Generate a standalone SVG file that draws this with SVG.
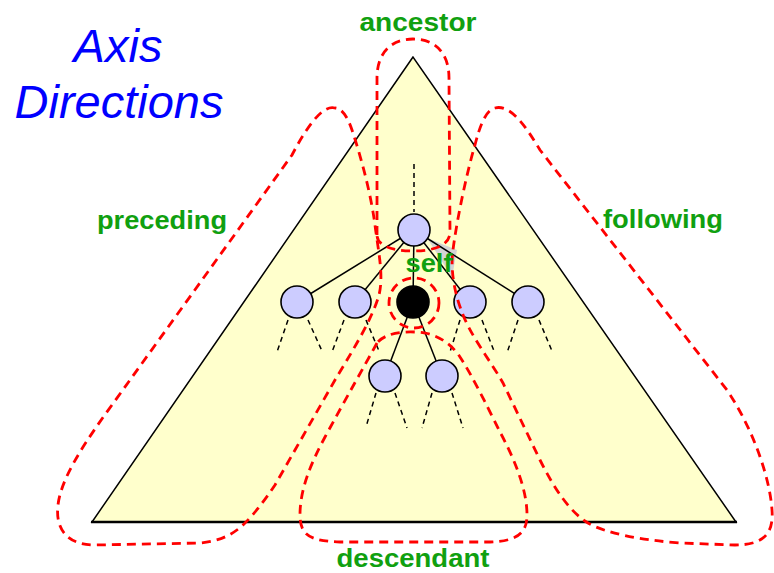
<svg xmlns="http://www.w3.org/2000/svg" width="774" height="573" viewBox="0 0 774 573">
<style>
.title{font-family:"Liberation Sans",Arial,sans-serif;font-style:italic;font-size:47px;fill:#0000FF;text-anchor:middle}
.lbl{font-family:"Liberation Sans",Arial,sans-serif;font-weight:bold;font-size:26px;fill:#10A010;text-anchor:middle}
.node{fill:#CCCCFF;stroke:#000;stroke-width:1.6}
.self{fill:#000;stroke:#000;stroke-width:1.6}
.edge{stroke:#000;stroke-width:1.5;fill:none}
.kid{stroke:#000;stroke-width:1.5;fill:none;stroke-dasharray:5 4}
.axis{stroke:#FF0000;stroke-width:2.8;fill:none;stroke-dasharray:9 6}
</style>
<rect width="774" height="573" fill="#FFFFFF"/>
<g id="triangle">
<polygon points="413,57 92,522 736,522" fill="#FFFFCC" stroke="#000" stroke-width="1.5"/>
<line x1="91" y1="522" x2="737" y2="522" stroke="#000" stroke-width="2.5"/>
</g>
<polygon id="self-pointer" points="427,238 457,250 452,277" fill="#D4D4D4"/>
<g id="connectors">
<line class="kid" x1="414" y1="164" x2="414" y2="212"/>
<line class="edge" x1="414" y1="230" x2="297" y2="302"/>
<line class="edge" x1="414" y1="230" x2="355" y2="302"/>
<line class="edge" x1="414" y1="230" x2="413" y2="302"/>
<line class="edge" x1="414" y1="230" x2="470" y2="302"/>
<line class="edge" x1="414" y1="230" x2="528" y2="302"/>
<line class="edge" x1="413" y1="302" x2="385" y2="376"/>
<line class="edge" x1="413" y1="302" x2="442" y2="376"/>
<path class="kid" d="M288,320 L277,352 M308,320 L322,351 M344,320 L332,352 M366,320 L379,351 M460,320 L450,352 M482,320 L494,351 M518,320 L507,353 M539,320 L552,351 M376,393 L366,427 M395,393 L407,428 M432,393 L422,428 M452,393 L463,428"/>
</g>
<g id="node-root"><circle class="node" cx="414" cy="230" r="16"/></g>
<g id="node-p1"><circle class="node" cx="297" cy="302" r="16"/></g>
<g id="node-p2"><circle class="node" cx="355" cy="302" r="16"/></g>
<g id="node-self"><circle class="self" cx="413" cy="302" r="16"/></g>
<g id="node-f1"><circle class="node" cx="470" cy="302" r="16"/></g>
<g id="node-f2"><circle class="node" cx="528" cy="302" r="16"/></g>
<g id="node-d1"><circle class="node" cx="385" cy="376" r="16"/></g>
<g id="node-d2"><circle class="node" cx="442" cy="376" r="16"/></g>
<g id="axes">
<path id="ancestor-loop" class="axis" d="M377,235 L377,78 C377,52 392,39 413,39 C434,39 449,52 449,78 L450,232 C450,245 435,251 413,251 C391,251 377,245 377,235 Z"/>
<path id="preceding-loop" class="axis" d="M335,108 C322,104 305,130 292,155 L130,380 C100,422 62,470 58,505 C55,530 68,545 95,545 L200,543 C222,541 235,533 245,523 C255,513 265,500 275,485 L335,380 C350,355 372,320 379,295 C384,275 378,250 375,225 C371,195 362,160 352,130 C347,115 341,108 335,108 Z"/>
<path id="following-loop" class="axis" d="M495,108 C510,104 525,125 540,150 L727,390 C755,432 770,480 772,510 C774,535 762,545 735,545 L680,543 C640,540 605,533 588,523 C570,512 555,490 540,460 L503,383 C490,360 470,335 462,312 C455,295 450,270 453,250 C456,225 466,175 475,145 C480,125 486,110 495,108 Z"/>
<circle id="self-loop" class="axis" cx="414" cy="303" r="25"/>
<path id="descendant-loop" class="axis" d="M377,343 C365,365 345,400 325,437 C310,465 300,490 300,515 C300,535 310,541 340,542 L490,542 C515,541 527,535 527,515 C527,490 515,460 500,432 C488,408 472,375 460,357 C452,345 440,336 425,333 C405,330 385,333 377,343 Z"/>
</g>
<g id="labels">
<text class="title" x="118" y="62">Axis</text>
<text class="title" x="119" y="118">Directions</text>
<text class="lbl" x="418" y="31" textLength="117" lengthAdjust="spacingAndGlyphs">ancestor</text>
<text class="lbl" x="162" y="229" textLength="130" lengthAdjust="spacingAndGlyphs">preceding</text>
<text class="lbl" x="663" y="228" textLength="120" lengthAdjust="spacingAndGlyphs">following</text>
<text class="lbl" x="429" y="272" textLength="47" lengthAdjust="spacingAndGlyphs">self</text>
<text class="lbl" x="413" y="567" textLength="153" lengthAdjust="spacingAndGlyphs">descendant</text>
</g>
</svg>
